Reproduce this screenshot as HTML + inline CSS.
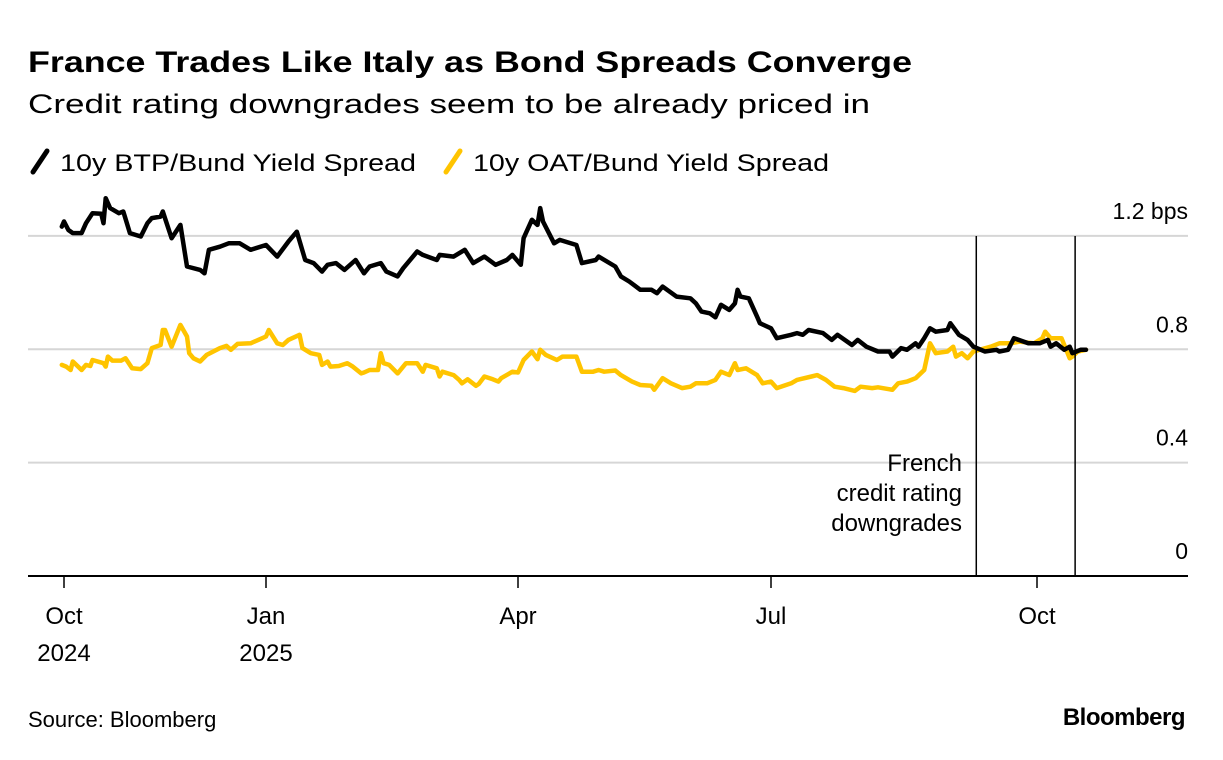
<!DOCTYPE html>
<html><head><meta charset="utf-8"><style>
html,body{margin:0;padding:0;background:#fff;}
svg{display:block;font-family:"Liberation Sans",Arial,sans-serif;}
</style></head><body>
<svg id="chart" width="1223" height="760" viewBox="0 0 1223 760" xmlns="http://www.w3.org/2000/svg">
<text x="28" y="72" font-size="30" font-weight="bold" fill="#000" textLength="884" lengthAdjust="spacingAndGlyphs">France Trades Like Italy as Bond Spreads Converge</text>
<text x="28" y="113" font-size="27" fill="#000" textLength="842" lengthAdjust="spacingAndGlyphs">Credit rating downgrades seem to be already priced in</text>
<g>
<line x1="33" y1="172" x2="47" y2="151" stroke="#000" stroke-width="5" stroke-linecap="round"/>
<text x="60" y="171" font-size="24" fill="#000" textLength="356" lengthAdjust="spacingAndGlyphs">10y BTP/Bund Yield Spread</text>
<line x1="446" y1="172" x2="460" y2="151" stroke="#FFC400" stroke-width="5" stroke-linecap="round"/>
<text x="473" y="171" font-size="24" fill="#000" textLength="356" lengthAdjust="spacingAndGlyphs">10y OAT/Bund Yield Spread</text>
</g>
<g id="grid"></g>
<g id="series"></g>
<g id="annot"></g>
<text x="28" y="727" font-size="22" fill="#000">Source: Bloomberg</text>
<text x="1185" y="725" font-size="24" font-weight="bold" fill="#000" text-anchor="end" letter-spacing="-0.5">Bloomberg</text>
</svg>
<script>
const yTicks=[0,0.4,0.8,1.2];
const yTickLabels=["0","0.4","0.8","1.2 bps"];
const xTickDays=[0,92,182,273,365];
const xTickLabels=[["Oct","2024"],["Jan","2025"],["Apr",""],["Jul",""],["Oct",""]];
const eventDays=[344,379];
const btpDays=[-1,0,2,4,8,10,13,17,18,19,21,25,27,30,35,38,40,44,45,49,53,56,62,64,66,71,75,80,85,92,96,100,103,106,109,112,114,117,120,124,127,129,133,135,139,141,146,148,153,154,159,163,166,170,174,178,180,183,184,187,189,190,191,195,197,203,205,210,211,217,219,222,226,230,232,234,239,244,246,248,251,253,255,258,260,261,262,265,268,269,273,275,280,282,284,286,291,294,296,301,303,306,310,314,315,318,320,323,324,326,328,330,334,335,338,341,343,347,351,352,355,357,362,366,369,370,372,375,377,378,381,383];
const btpValues=[1.233,1.251,1.221,1.210,1.210,1.245,1.280,1.278,1.245,1.333,1.298,1.280,1.286,1.210,1.198,1.245,1.263,1.268,1.286,1.192,1.239,1.092,1.080,1.068,1.151,1.162,1.174,1.174,1.151,1.168,1.127,1.180,1.215,1.115,1.104,1.074,1.098,1.104,1.080,1.115,1.068,1.092,1.104,1.074,1.057,1.086,1.145,1.133,1.115,1.133,1.127,1.151,1.104,1.127,1.098,1.115,1.133,1.098,1.192,1.257,1.239,1.298,1.251,1.174,1.186,1.168,1.104,1.115,1.127,1.092,1.057,1.039,1.010,1.010,0.998,1.021,0.986,0.980,0.962,0.933,0.927,0.913,0.957,0.939,0.962,1.010,0.986,0.980,0.915,0.892,0.874,0.839,0.851,0.857,0.851,0.868,0.857,0.833,0.851,0.815,0.833,0.809,0.792,0.792,0.774,0.804,0.798,0.821,0.809,0.839,0.874,0.862,0.868,0.892,0.851,0.833,0.809,0.792,0.798,0.792,0.798,0.839,0.821,0.821,0.833,0.809,0.821,0.798,0.809,0.786,0.798,0.798];
const oatDays=[-1,1,3,4,8,10,12,13,18,19,20,22,26,28,31,35,38,40,44,45,46,49,53,56,57,59,62,65,71,74,76,79,85,89,92,93,96,98,100,104,105,108,111,112,114,115,118,121,123,126,127,129,132,133,134,136,139,142,146,148,149,153,154,155,159,161,162,164,167,168,170,173,175,176,180,182,184,187,189,190,192,196,198,203,205,209,211,213,217,219,223,226,230,231,234,237,241,244,246,250,253,255,258,260,261,264,268,270,273,275,280,282,287,289,292,295,298,302,304,308,310,315,317,320,323,326,328,330,334,336,337,339,341,343,349,352,356,359,364,367,368,370,374,377,378,380,383];
const oatValues=[0.745,0.739,0.727,0.757,0.727,0.745,0.741,0.762,0.751,0.739,0.774,0.760,0.760,0.768,0.733,0.730,0.751,0.804,0.815,0.868,0.868,0.809,0.886,0.845,0.786,0.768,0.757,0.780,0.804,0.812,0.798,0.819,0.821,0.835,0.845,0.868,0.821,0.815,0.833,0.851,0.804,0.786,0.780,0.745,0.757,0.739,0.741,0.751,0.739,0.715,0.718,0.727,0.727,0.786,0.751,0.745,0.715,0.751,0.751,0.721,0.745,0.733,0.704,0.721,0.709,0.692,0.680,0.694,0.671,0.678,0.704,0.694,0.686,0.698,0.721,0.718,0.762,0.792,0.765,0.798,0.780,0.762,0.774,0.774,0.721,0.721,0.727,0.721,0.725,0.709,0.686,0.674,0.671,0.657,0.698,0.680,0.663,0.668,0.680,0.680,0.692,0.721,0.709,0.751,0.727,0.733,0.709,0.680,0.686,0.663,0.680,0.692,0.704,0.709,0.692,0.668,0.663,0.653,0.668,0.663,0.666,0.657,0.680,0.686,0.698,0.727,0.821,0.786,0.792,0.809,0.774,0.786,0.768,0.792,0.809,0.821,0.821,0.827,0.821,0.839,0.862,0.839,0.839,0.768,0.774,0.792,0.798];

const NS="http://www.w3.org/2000/svg";
const tickPx=[64,266,518,771,1037,1214];
const tickDayAnch=[0,92,182,273,365,430];
function xScale(d){
  for(let i=0;i<tickDayAnch.length-1;i++){
    if(d<=tickDayAnch[i+1]||i===tickDayAnch.length-2){
      const t=(d-tickDayAnch[i])/(tickDayAnch[i+1]-tickDayAnch[i]);
      return tickPx[i]+t*(tickPx[i+1]-tickPx[i]);
    }
  }
}
function yScale(v){return 576-v*283.4;}
function mk(tag,attrs,parent){const e=document.createElementNS(NS,tag);for(const k in attrs)e.setAttribute(k,attrs[k]);parent.appendChild(e);return e;}
const grid=document.getElementById('grid');
yTicks.forEach((t,i)=>{
  if(t>0){
    const l=mk('line',{x1:28,x2:1188,y1:yScale(t),y2:yScale(t),stroke:'#d6d6d6','stroke-width':2},grid);
    
    
  }
  const tx=mk('text',{x:1188,y:yScale(t)-17,'font-size':23,'text-anchor':'end',fill:'#000'},grid);
  tx.textContent=yTickLabels[i];
  
  
});
const base=mk('line',{x1:28,x2:1188,y1:576,y2:576,stroke:'#000','stroke-width':2},grid);


xTickDays.forEach((d,i)=>{
  const x=xScale(d);
  const tk=mk('line',{x1:x,x2:x,y1:576,y2:588,stroke:'#000','stroke-width':1.5},grid);
  
  
  xTickLabels[i].forEach((s,j)=>{
    if(!s)return;
    const tx=mk('text',{x:x,y:624+j*37,'font-size':24,'text-anchor':'middle',fill:'#000'},grid);
    tx.textContent=s;
    
    
  });
});
const ser=document.getElementById('series');
function drawLine(days,vals,color,name){
  const d=days.map((dd,i)=>(i?'L':'M')+xScale(dd).toFixed(1)+' '+yScale(vals[i]).toFixed(1)).join(' ');
  const p=mk('path',{d:d,fill:'none',stroke:color,'stroke-width':4.5,'stroke-linejoin':'round','stroke-linecap':'round'},ser);
  
  
}
drawLine(oatDays,oatValues,'#FFC400','oat-bund-spread-line');
drawLine(btpDays,btpValues,'#000','btp-bund-spread-line');
const an=document.getElementById('annot');
eventDays.forEach(d=>{
  const x=xScale(d);
  const l=mk('line',{x1:x,x2:x,y1:236,y2:576,stroke:'#000','stroke-width':1.5},an);
  
  
});
["French","credit rating","downgrades"].forEach((s,i)=>{
  const t=mk('text',{x:962,y:471+i*30,'font-size':24,'text-anchor':'end',fill:'#000'},an);
  t.textContent=s;
  
  
});
</script>
</body></html>
